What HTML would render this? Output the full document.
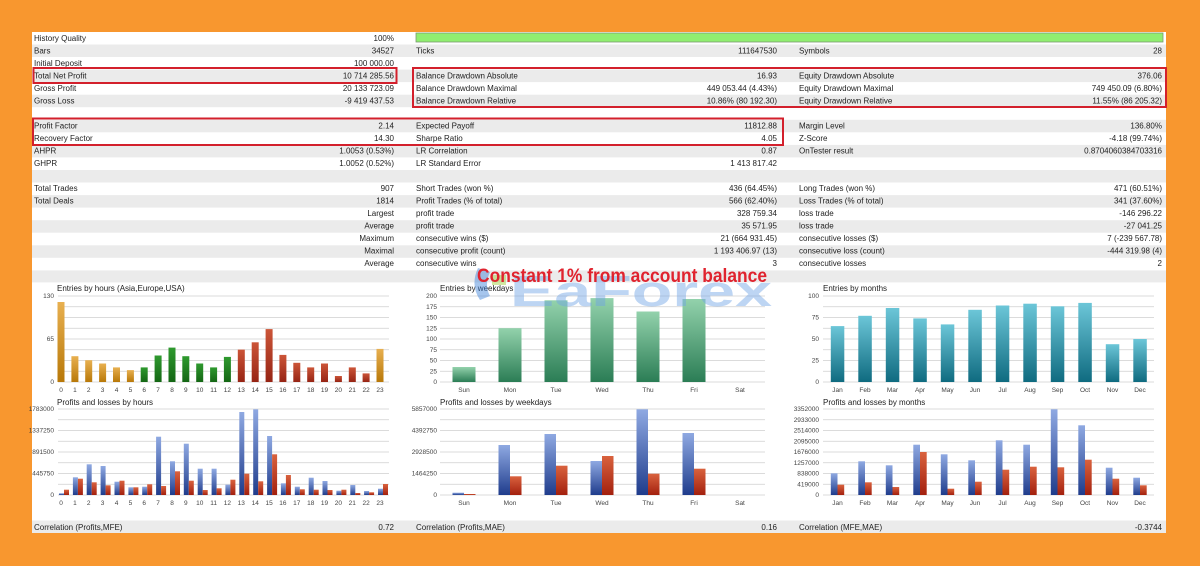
<!DOCTYPE html>
<html><head><meta charset="utf-8"><style>
html,body{margin:0;padding:0;background:#F8972F;}
svg{display:block;font-family:"Liberation Sans",sans-serif;}
.t{font-size:8px;fill:#222;}
.a{font-size:6.5px;fill:#444;}
.ti{font-size:8px;fill:#222;}
</style></head><body>
<svg width="1200" height="566" viewBox="0 0 1200 566" xmlns="http://www.w3.org/2000/svg">
<defs>
<linearGradient id="gb" x1="0" y1="1" x2="0" y2="0"><stop offset="0" stop-color="#1f3c8c"/><stop offset="1" stop-color="#8fa9e2"/></linearGradient>
<linearGradient id="gr" x1="0" y1="1" x2="0" y2="0"><stop offset="0" stop-color="#a3200e"/><stop offset="1" stop-color="#d9623e"/></linearGradient>
<linearGradient id="go" x1="0" y1="1" x2="0" y2="0"><stop offset="0" stop-color="#b87808"/><stop offset="1" stop-color="#e8b050"/></linearGradient>
<linearGradient id="gg" x1="0" y1="1" x2="0" y2="0"><stop offset="0" stop-color="#146614"/><stop offset="1" stop-color="#2f9a2f"/></linearGradient>
<linearGradient id="gd" x1="0" y1="1" x2="0" y2="0"><stop offset="0" stop-color="#962414"/><stop offset="1" stop-color="#cc5538"/></linearGradient>
<linearGradient id="gw" x1="0" y1="1" x2="0" y2="0"><stop offset="0" stop-color="#2b7d55"/><stop offset="1" stop-color="#93d2ac"/></linearGradient>
<linearGradient id="gt" x1="0" y1="1" x2="0" y2="0"><stop offset="0" stop-color="#0f6b80"/><stop offset="1" stop-color="#6cc6d8"/></linearGradient>
</defs>
<rect x="32" y="32" width="1134" height="501" fill="#fff"/>
<!-- row bands -->
<g fill="#ebebeb">
<rect x="32" y="44.5" width="1134" height="12.5"/>
<rect x="32" y="69.6" width="1134" height="12.5"/>
<rect x="32" y="94.7" width="1134" height="12.5"/>
<rect x="32" y="119.8" width="1134" height="12.5"/>
<rect x="32" y="144.9" width="1134" height="12.5"/>
<rect x="32" y="170" width="1134" height="12.5"/>
<rect x="32" y="195.1" width="1134" height="12.5"/>
<rect x="32" y="220.2" width="1134" height="12.5"/>
<rect x="32" y="245.3" width="1134" height="12.5"/>
<rect x="32" y="270.4" width="1134" height="12"/>
<rect x="32" y="520.5" width="1134" height="12.5"/>
</g>
<rect x="416" y="33" width="747" height="9" fill="#90ee70" stroke="#7a9a70" stroke-width="0.8"/>
<g class="t">
<text x="34" y="41">History Quality</text><text x="394" y="41" text-anchor="end">100%</text>
<text x="34" y="53.5">Bars</text><text x="394" y="53.5" text-anchor="end">34527</text><text x="416" y="53.5">Ticks</text><text x="777" y="53.5" text-anchor="end">111647530</text><text x="799" y="53.5">Symbols</text><text x="1162" y="53.5" text-anchor="end">28</text>
<text x="34" y="66">Initial Deposit</text><text x="394" y="66" text-anchor="end">100 000.00</text>
<text x="34" y="78.5">Total Net Profit</text><text x="394" y="78.5" text-anchor="end">10 714 285.56</text><text x="416" y="78.5">Balance Drawdown Absolute</text><text x="777" y="78.5" text-anchor="end">16.93</text><text x="799" y="78.5">Equity Drawdown Absolute</text><text x="1162" y="78.5" text-anchor="end">376.06</text>
<text x="34" y="91">Gross Profit</text><text x="394" y="91" text-anchor="end">20 133 723.09</text><text x="416" y="91">Balance Drawdown Maximal</text><text x="777" y="91" text-anchor="end">449 053.44 (4.43%)</text><text x="799" y="91">Equity Drawdown Maximal</text><text x="1162" y="91" text-anchor="end">749 450.09 (6.80%)</text>
<text x="34" y="103.5">Gross Loss</text><text x="394" y="103.5" text-anchor="end">-9 419 437.53</text><text x="416" y="103.5">Balance Drawdown Relative</text><text x="777" y="103.5" text-anchor="end">10.86% (80 192.30)</text><text x="799" y="103.5">Equity Drawdown Relative</text><text x="1162" y="103.5" text-anchor="end">11.55% (86 205.32)</text>
<text x="34" y="128.5">Profit Factor</text><text x="394" y="128.5" text-anchor="end">2.14</text><text x="416" y="128.5">Expected Payoff</text><text x="777" y="128.5" text-anchor="end">11812.88</text><text x="799" y="128.5">Margin Level</text><text x="1162" y="128.5" text-anchor="end">136.80%</text>
<text x="34" y="141">Recovery Factor</text><text x="394" y="141" text-anchor="end">14.30</text><text x="416" y="141">Sharpe Ratio</text><text x="777" y="141" text-anchor="end">4.05</text><text x="799" y="141">Z-Score</text><text x="1162" y="141" text-anchor="end">-4.18 (99.74%)</text>
<text x="34" y="153.5">AHPR</text><text x="394" y="153.5" text-anchor="end">1.0053 (0.53%)</text><text x="416" y="153.5">LR Correlation</text><text x="777" y="153.5" text-anchor="end">0.87</text><text x="799" y="153.5">OnTester result</text><text x="1162" y="153.5" text-anchor="end">0.8704060384703316</text>
<text x="34" y="166">GHPR</text><text x="394" y="166" text-anchor="end">1.0052 (0.52%)</text><text x="416" y="166">LR Standard Error</text><text x="777" y="166" text-anchor="end">1 413 817.42</text>
<text x="34" y="191">Total Trades</text><text x="394" y="191" text-anchor="end">907</text><text x="416" y="191">Short Trades (won %)</text><text x="777" y="191" text-anchor="end">436 (64.45%)</text><text x="799" y="191">Long Trades (won %)</text><text x="1162" y="191" text-anchor="end">471 (60.51%)</text>
<text x="34" y="203.5">Total Deals</text><text x="394" y="203.5" text-anchor="end">1814</text><text x="416" y="203.5">Profit Trades (% of total)</text><text x="777" y="203.5" text-anchor="end">566 (62.40%)</text><text x="799" y="203.5">Loss Trades (% of total)</text><text x="1162" y="203.5" text-anchor="end">341 (37.60%)</text>
<text x="394" y="216" text-anchor="end">Largest</text><text x="416" y="216">profit trade</text><text x="777" y="216" text-anchor="end">328 759.34</text><text x="799" y="216">loss trade</text><text x="1162" y="216" text-anchor="end">-146 296.22</text>
<text x="394" y="228.5" text-anchor="end">Average</text><text x="416" y="228.5">profit trade</text><text x="777" y="228.5" text-anchor="end">35 571.95</text><text x="799" y="228.5">loss trade</text><text x="1162" y="228.5" text-anchor="end">-27 041.25</text>
<text x="394" y="241" text-anchor="end">Maximum</text><text x="416" y="241">consecutive wins ($)</text><text x="777" y="241" text-anchor="end">21 (664 931.45)</text><text x="799" y="241">consecutive losses ($)</text><text x="1162" y="241" text-anchor="end">7 (-239 567.78)</text>
<text x="394" y="253.5" text-anchor="end">Maximal</text><text x="416" y="253.5">consecutive profit (count)</text><text x="777" y="253.5" text-anchor="end">1 193 406.97 (13)</text><text x="799" y="253.5">consecutive loss (count)</text><text x="1162" y="253.5" text-anchor="end">-444 319.98 (4)</text>
<text x="394" y="266" text-anchor="end">Average</text><text x="416" y="266">consecutive wins</text><text x="777" y="266" text-anchor="end">3</text><text x="799" y="266">consecutive losses</text><text x="1162" y="266" text-anchor="end">2</text>
<text x="34" y="530">Correlation (Profits,MFE)</text><text x="394" y="530" text-anchor="end">0.72</text><text x="416" y="530">Correlation (Profits,MAE)</text><text x="777" y="530" text-anchor="end">0.16</text><text x="799" y="530">Correlation (MFE,MAE)</text><text x="1162" y="530" text-anchor="end">-0.3744</text>
</g>
<!-- red boxes -->
<g fill="none" stroke="#d3202c" stroke-width="2">
<rect x="33.5" y="68" width="363" height="15"/>
<rect x="413" y="68" width="753" height="39"/>
<rect x="33" y="118.5" width="750" height="26.5"/>
</g>
<!-- gridlines -->
<g stroke="#cfcfcf" stroke-width="0.8">
<path d="M58 296H389M58 306.75H389M58 317.5H389M58 328.25H389M58 339H389M58 349.75H389M58 360.5H389M58 371.25H389M58 382H389"/>
<path d="M58 409H389M58 419.75H389M58 430.5H389M58 441.25H389M58 452H389M58 462.75H389M58 473.5H389M58 484.25H389M58 495H389"/>
<path d="M440 296H765M440 306.75H765M440 317.5H765M440 328.25H765M440 339H765M440 349.75H765M440 360.5H765M440 371.25H765M440 382H765"/>
<path d="M440 409H765M440 419.75H765M440 430.5H765M440 441.25H765M440 452H765M440 462.75H765M440 473.5H765M440 484.25H765M440 495H765"/>
<path d="M823 296H1154M823 306.75H1154M823 317.5H1154M823 328.25H1154M823 339H1154M823 349.75H1154M823 360.5H1154M823 371.25H1154M823 382H1154"/>
<path d="M823 409H1154M823 419.75H1154M823 430.5H1154M823 441.25H1154M823 452H1154M823 462.75H1154M823 473.5H1154M823 484.25H1154M823 495H1154"/>
</g>
<!-- titles -->
<g class="ti">
<text x="57" y="291">Entries by hours (Asia,Europe,USA)</text>
<text x="57" y="405">Profits and losses by hours</text>
<text x="440" y="291">Entries by weekdays</text>
<text x="440" y="405">Profits and losses by weekdays</text>
<text x="823" y="291">Entries by months</text>
<text x="823" y="405">Profits and losses by months</text>
</g>
<!-- y labels -->
<g class="a" text-anchor="end">
<text x="54" y="298">130</text><text x="54" y="341">65</text><text x="54" y="384">0</text>
<text x="54" y="411">1783000</text><text x="54" y="432.5">1337250</text><text x="54" y="454">891500</text><text x="54" y="475.5">445750</text><text x="54" y="497">0</text>
<text x="437" y="298">200</text><text x="437" y="308.75">175</text><text x="437" y="319.5">150</text><text x="437" y="330.25">125</text><text x="437" y="341">100</text><text x="437" y="351.75">75</text><text x="437" y="362.5">50</text><text x="437" y="373.25">25</text><text x="437" y="384">0</text>
<text x="437" y="411">5857000</text><text x="437" y="432.5">4392750</text><text x="437" y="454">2928500</text><text x="437" y="475.5">1464250</text><text x="437" y="497">0</text>
<text x="819" y="298">100</text><text x="819" y="319.5">75</text><text x="819" y="341">50</text><text x="819" y="362.5">25</text><text x="819" y="384">0</text>
<text x="819" y="411">3352000</text><text x="819" y="421.75">2933000</text><text x="819" y="432.5">2514000</text><text x="819" y="443.25">2095000</text><text x="819" y="454">1676000</text><text x="819" y="464.75">1257000</text><text x="819" y="475.5">838000</text><text x="819" y="486.25">419000</text><text x="819" y="497">0</text>
</g>
<!-- hours entries bars (x=57.5+13.87i) -->
<g>
<rect x="57.5" y="302" width="7" height="80" fill="url(#go)"/>
<rect x="71.4" y="356.2" width="7" height="25.8" fill="url(#go)"/>
<rect x="85.2" y="360.2" width="7" height="21.8" fill="url(#go)"/>
<rect x="99.1" y="363.5" width="7" height="18.5" fill="url(#go)"/>
<rect x="113" y="367.4" width="7" height="14.6" fill="url(#go)"/>
<rect x="126.9" y="370.1" width="7" height="11.9" fill="url(#go)"/>
<rect x="140.7" y="367.4" width="7" height="14.6" fill="url(#gg)"/>
<rect x="154.6" y="355.5" width="7" height="26.5" fill="url(#gg)"/>
<rect x="168.5" y="347.6" width="7" height="34.4" fill="url(#gg)"/>
<rect x="182.3" y="356.2" width="7" height="25.8" fill="url(#gg)"/>
<rect x="196.2" y="363.5" width="7" height="18.5" fill="url(#gg)"/>
<rect x="210.1" y="367.4" width="7" height="14.6" fill="url(#gg)"/>
<rect x="223.9" y="356.9" width="7" height="25.1" fill="url(#gg)"/>
<rect x="237.8" y="349.6" width="7" height="32.4" fill="url(#gd)"/>
<rect x="251.7" y="342.3" width="7" height="39.7" fill="url(#gd)"/>
<rect x="265.6" y="329.1" width="7" height="52.9" fill="url(#gd)"/>
<rect x="279.4" y="354.9" width="7" height="27.1" fill="url(#gd)"/>
<rect x="293.3" y="362.8" width="7" height="19.2" fill="url(#gd)"/>
<rect x="307.2" y="367.4" width="7" height="14.6" fill="url(#gd)"/>
<rect x="321" y="363.5" width="7" height="18.5" fill="url(#gd)"/>
<rect x="334.9" y="376" width="7" height="6" fill="url(#gd)"/>
<rect x="348.8" y="367.4" width="7" height="14.6" fill="url(#gd)"/>
<rect x="362.6" y="373.4" width="7" height="8.6" fill="url(#gd)"/>
<rect x="376.5" y="348.9" width="7" height="33.1" fill="url(#go)"/>
</g>
<!-- hours x labels -->
<g class="a" text-anchor="middle">
<text x="61" y="392">0</text><text x="74.9" y="392">1</text><text x="88.7" y="392">2</text><text x="102.6" y="392">3</text><text x="116.5" y="392">4</text><text x="130.4" y="392">5</text><text x="144.2" y="392">6</text><text x="158.1" y="392">7</text><text x="172" y="392">8</text><text x="185.8" y="392">9</text><text x="199.7" y="392">10</text><text x="213.6" y="392">11</text><text x="227.4" y="392">12</text><text x="241.3" y="392">13</text><text x="255.2" y="392">14</text><text x="269.1" y="392">15</text><text x="282.9" y="392">16</text><text x="296.8" y="392">17</text><text x="310.7" y="392">18</text><text x="324.5" y="392">19</text><text x="338.4" y="392">20</text><text x="352.3" y="392">21</text><text x="366.1" y="392">22</text><text x="380" y="392">23</text>
<text x="61" y="505">0</text><text x="74.9" y="505">1</text><text x="88.7" y="505">2</text><text x="102.6" y="505">3</text><text x="116.5" y="505">4</text><text x="130.4" y="505">5</text><text x="144.2" y="505">6</text><text x="158.1" y="505">7</text><text x="172" y="505">8</text><text x="185.8" y="505">9</text><text x="199.7" y="505">10</text><text x="213.6" y="505">11</text><text x="227.4" y="505">12</text><text x="241.3" y="505">13</text><text x="255.2" y="505">14</text><text x="269.1" y="505">15</text><text x="282.9" y="505">16</text><text x="296.8" y="505">17</text><text x="310.7" y="505">18</text><text x="324.5" y="505">19</text><text x="338.4" y="505">20</text><text x="352.3" y="505">21</text><text x="366.1" y="505">22</text><text x="380" y="505">23</text>
<text x="464" y="392">Sun</text><text x="510" y="392">Mon</text><text x="556" y="392">Tue</text><text x="602" y="392">Wed</text><text x="648" y="392">Thu</text><text x="694" y="392">Fri</text><text x="740" y="392">Sat</text>
<text x="464" y="505">Sun</text><text x="510" y="505">Mon</text><text x="556" y="505">Tue</text><text x="602" y="505">Wed</text><text x="648" y="505">Thu</text><text x="694" y="505">Fri</text><text x="740" y="505">Sat</text>
<text x="837.5" y="392">Jan</text><text x="865" y="392">Feb</text><text x="892.5" y="392">Mar</text><text x="920" y="392">Apr</text><text x="947.5" y="392">May</text><text x="975" y="392">Jun</text><text x="1002.5" y="392">Jul</text><text x="1030" y="392">Aug</text><text x="1057.5" y="392">Sep</text><text x="1085" y="392">Oct</text><text x="1112.5" y="392">Nov</text><text x="1140" y="392">Dec</text>
<text x="837.5" y="505">Jan</text><text x="865" y="505">Feb</text><text x="892.5" y="505">Mar</text><text x="920" y="505">Apr</text><text x="947.5" y="505">May</text><text x="975" y="505">Jun</text><text x="1002.5" y="505">Jul</text><text x="1030" y="505">Aug</text><text x="1057.5" y="505">Sep</text><text x="1085" y="505">Oct</text><text x="1112.5" y="505">Nov</text><text x="1140" y="505">Dec</text>
</g>
<!-- hours PL: blue x=c-2, red x=c+3 -->
<g fill="url(#gb)">
<rect x="59" y="493.3" width="5" height="1.7"/>
<rect x="72.9" y="477.3" width="5" height="17.7"/>
<rect x="86.7" y="464.3" width="5" height="30.7"/>
<rect x="100.6" y="466" width="5" height="29"/>
<rect x="114.5" y="481.7" width="5" height="13.3"/>
<rect x="128.4" y="487.3" width="5" height="7.7"/>
<rect x="142.2" y="486.7" width="5" height="8.3"/>
<rect x="156.1" y="436.7" width="5" height="58.3"/>
<rect x="170" y="461.3" width="5" height="33.7"/>
<rect x="183.8" y="443.7" width="5" height="51.3"/>
<rect x="197.7" y="468.7" width="5" height="26.3"/>
<rect x="211.6" y="468.7" width="5" height="26.3"/>
<rect x="225.4" y="484.7" width="5" height="10.3"/>
<rect x="239.3" y="412" width="5" height="83"/>
<rect x="253.2" y="409.3" width="5" height="85.7"/>
<rect x="267.1" y="436" width="5" height="59"/>
<rect x="280.9" y="483.3" width="5" height="11.7"/>
<rect x="294.8" y="486.7" width="5" height="8.3"/>
<rect x="308.7" y="477.7" width="5" height="17.3"/>
<rect x="322.5" y="481" width="5" height="14"/>
<rect x="336.4" y="490.7" width="5" height="4.3"/>
<rect x="350.3" y="485" width="5" height="10"/>
<rect x="364.1" y="491" width="5" height="4"/>
<rect x="378" y="488.7" width="5" height="6.3"/>
</g>
<g fill="url(#gr)">
<rect x="64" y="489.7" width="5" height="5.3"/>
<rect x="77.9" y="478.7" width="5" height="16.3"/>
<rect x="91.7" y="482.3" width="5" height="12.7"/>
<rect x="105.6" y="485.3" width="5" height="9.7"/>
<rect x="119.5" y="480.7" width="5" height="14.3"/>
<rect x="133.4" y="487.3" width="5" height="7.7"/>
<rect x="147.2" y="484.3" width="5" height="10.7"/>
<rect x="161.1" y="486" width="5" height="9"/>
<rect x="175" y="471.3" width="5" height="23.7"/>
<rect x="188.8" y="480.7" width="5" height="14.3"/>
<rect x="202.7" y="490" width="5" height="5"/>
<rect x="216.6" y="488.3" width="5" height="6.7"/>
<rect x="230.4" y="479.7" width="5" height="15.3"/>
<rect x="244.3" y="473.7" width="5" height="21.3"/>
<rect x="258.2" y="481.3" width="5" height="13.7"/>
<rect x="272.1" y="454.3" width="5" height="40.7"/>
<rect x="285.9" y="475" width="5" height="20"/>
<rect x="299.8" y="489.3" width="5" height="5.7"/>
<rect x="313.7" y="489.7" width="5" height="5.3"/>
<rect x="327.5" y="490" width="5" height="5"/>
<rect x="341.4" y="489.7" width="5" height="5.3"/>
<rect x="355.3" y="493" width="5" height="2"/>
<rect x="369.1" y="492.3" width="5" height="2.7"/>
<rect x="383" y="484" width="5" height="11"/>
</g>
<!-- weekday entries -->
<g fill="url(#gw)">
<rect x="452.5" y="367" width="23" height="15"/>
<rect x="498.5" y="328.2" width="23" height="53.8"/>
<rect x="544.5" y="300.3" width="23" height="81.7"/>
<rect x="590.5" y="298.1" width="23" height="83.9"/>
<rect x="636.5" y="311.5" width="23" height="70.5"/>
<rect x="682.5" y="299" width="23" height="83"/>
</g>
<!-- weekday PL -->
<g fill="url(#gb)">
<rect x="452.5" y="492.7" width="11.5" height="2.3"/>
<rect x="498.5" y="445" width="11.5" height="50"/>
<rect x="544.5" y="434" width="11.5" height="61"/>
<rect x="590.5" y="461" width="11.5" height="34"/>
<rect x="636.5" y="409.3" width="11.5" height="85.7"/>
<rect x="682.5" y="433" width="11.5" height="62"/>
</g>
<g fill="url(#gr)">
<rect x="464" y="494" width="11.5" height="1"/>
<rect x="510" y="476.3" width="11.5" height="18.7"/>
<rect x="556" y="465.7" width="11.5" height="29.3"/>
<rect x="602" y="456" width="11.5" height="39"/>
<rect x="648" y="473.7" width="11.5" height="21.3"/>
<rect x="694" y="468.7" width="11.5" height="26.3"/>
</g>
<!-- months entries -->
<g fill="url(#gt)">
<rect x="830.8" y="326.1" width="13.5" height="55.9"/>
<rect x="858.3" y="315.8" width="13.5" height="66.2"/>
<rect x="885.8" y="308" width="13.5" height="74"/>
<rect x="913.3" y="318.4" width="13.5" height="63.6"/>
<rect x="940.8" y="324.4" width="13.5" height="57.6"/>
<rect x="968.3" y="309.8" width="13.5" height="72.2"/>
<rect x="995.8" y="305.5" width="13.5" height="76.5"/>
<rect x="1023.3" y="303.7" width="13.5" height="78.3"/>
<rect x="1050.8" y="306.3" width="13.5" height="75.7"/>
<rect x="1078.3" y="302.9" width="13.5" height="79.1"/>
<rect x="1105.8" y="344.2" width="13.5" height="37.8"/>
<rect x="1133.3" y="339" width="13.5" height="43"/>
</g>
<!-- months PL -->
<g fill="url(#gb)">
<rect x="830.8" y="473.3" width="6.7" height="21.7"/>
<rect x="858.3" y="461.3" width="6.7" height="33.7"/>
<rect x="885.8" y="465.3" width="6.7" height="29.7"/>
<rect x="913.3" y="444.7" width="6.7" height="50.3"/>
<rect x="940.8" y="454.3" width="6.7" height="40.7"/>
<rect x="968.3" y="460.3" width="6.7" height="34.7"/>
<rect x="995.8" y="440.3" width="6.7" height="54.7"/>
<rect x="1023.3" y="444.7" width="6.7" height="50.3"/>
<rect x="1050.8" y="409.3" width="6.7" height="85.7"/>
<rect x="1078.3" y="425.3" width="6.7" height="69.7"/>
<rect x="1105.8" y="467.7" width="6.7" height="27.3"/>
<rect x="1133.3" y="477.7" width="6.7" height="17.3"/>
</g>
<g fill="url(#gr)">
<rect x="837.5" y="484.7" width="6.7" height="10.3"/>
<rect x="865" y="482.3" width="6.7" height="12.7"/>
<rect x="892.5" y="487" width="6.7" height="8"/>
<rect x="920" y="452" width="6.7" height="43"/>
<rect x="947.5" y="488.7" width="6.7" height="6.3"/>
<rect x="975" y="481.7" width="6.7" height="13.3"/>
<rect x="1002.5" y="469.7" width="6.7" height="25.3"/>
<rect x="1030" y="466.7" width="6.7" height="28.3"/>
<rect x="1057.5" y="467.3" width="6.7" height="27.7"/>
<rect x="1085" y="459.7" width="6.7" height="35.3"/>
<rect x="1112.5" y="478.7" width="6.7" height="16.3"/>
<rect x="1140" y="485.3" width="6.7" height="9.7"/>
</g>
<!-- watermark -->
<g opacity="0.45">
<path d="M478 268 Q470 285 480 300 L490 296 Q484 285 490 272 Z" fill="#3a7fd8"/>
<rect x="492" y="275" width="14" height="10" fill="#9acd32"/>
<text x="510" y="306" font-size="44" font-weight="bold" fill="#6fa3e6" textLength="262" lengthAdjust="spacingAndGlyphs">EaForex</text>
</g>
<text x="477" y="282" font-size="19" font-weight="bold" fill="#e0232e" textLength="290" lengthAdjust="spacingAndGlyphs">Constant 1% from account balance</text>
</svg>
</body></html>
